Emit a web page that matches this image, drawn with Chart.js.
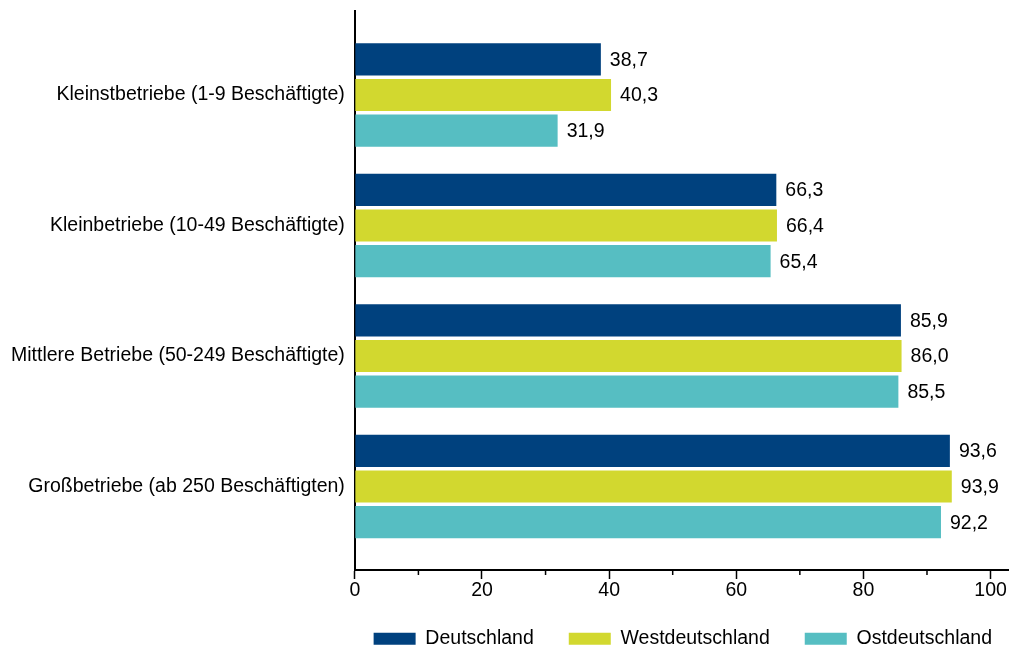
<!DOCTYPE html>
<html lang="de">
<head>
<meta charset="utf-8">
<script src="https://cdn.jsdelivr.net/npm/chart.js@4/dist/chart.umd.min.js"></script>
<style>
  html, body { margin: 0; padding: 0; background: #fff; }
  #wrap { width: 1009px; height: 652px; position: relative; }
</style>
</head>
<body>
<div id="wrap"><canvas id="chartBetriebe"></canvas></div>
<script>
// Daten
const kategorien = [
    'Kleinstbetriebe (1-9 Beschäftigte)',
    'Kleinbetriebe (10-49 Beschäftigte)',
    'Mittlere Betriebe (50-249 Beschäftigte)',
    'Großbetriebe (ab 250 Beschäftigten)'
];
const deutschland = [38.7, 66.3, 85.9, 93.6];
const westdeutschland = [40.3, 66.4, 86.0, 93.9];
const ostdeutschland = [31.9, 65.4, 85.5, 92.2];
const xTicks = [0, 20, 40, 60, 80, 100];
const xMinorTicks = [10, 30, 50, 70, 90];

const schrift = '"Liberation Sans", Arial, sans-serif';
const groesse = 19.5;

const punkte = (werte) => werte.map((v, i) => ({ x: v, y: i }));

// Werte rechts neben den Balken
const wertLabels = {
    id: 'wertLabels',
    afterDatasetsDraw(chart) {
        const ctx = chart.ctx;
        ctx.save();
        ctx.font = `${groesse}px ${schrift}`;
        ctx.fillStyle = '#000';
        ctx.textAlign = 'left';
        ctx.textBaseline = 'middle';
        chart.data.datasets.forEach((ds, di) => {
            chart.getDatasetMeta(di).data.forEach((bar, i) => {
                const txt = ds.data[i].x.toFixed(1).replace('.', ',');
                ctx.fillText(txt, bar.x + 9, bar.y + 1);
            });
        });
        ctx.restore();
    }
};

// kurze Zwischenstriche auf der x-Achse
const kleineStriche = {
    id: 'kleineStriche',
    afterLayout(chart) {
        // Beschriftung der x-Achse nicht abschneiden
        chart.scales.x.bottom = chart.height;
    },
    afterDraw(chart) {
        const sx = chart.scales.x;
        const ctx = chart.ctx;
        ctx.save();
        ctx.strokeStyle = '#000';
        ctx.lineWidth = 1.5;
        xMinorTicks.forEach(v => {
            const px = sx.getPixelForValue(v);
            ctx.beginPath();
            ctx.moveTo(px, sx.top);
            ctx.lineTo(px, sx.top + 5);
            ctx.stroke();
        });
        ctx.restore();
    }
};

const ctx = document.getElementById('chartBetriebe').getContext('2d');
new Chart(ctx, {
    type: 'bar',
    data: {
        datasets: [
            { label: 'Deutschland', data: punkte(deutschland), backgroundColor: '#00417e' },
            { label: 'Westdeutschland', data: punkte(westdeutschland), backgroundColor: '#d2d82f' },
            { label: 'Ostdeutschland', data: punkte(ostdeutschland), backgroundColor: '#56bec2' }
        ]
    },
    options: {
        indexAxis: 'y',
        responsive: true,
        maintainAspectRatio: false,
        animation: false,
        categoryPercentage: 0.82,
        barPercentage: 0.9,
        layout: { padding: { top: 11, left: 1, right: -18, bottom: 0 } },
        plugins: {
            tooltip: { enabled: false },
            legend: {
                position: 'bottom',
                align: 'end',
                maxHeight: 58,
                labels: {
                    boxWidth: 42,
                    boxHeight: 12,
                    padding: 35,
                    color: '#000',
                    font: { family: schrift, size: groesse }
                }
            }
        },
        scales: {
            x: {
                type: 'linear',
                min: 0,
                max: 102.9,
                grid: { drawOnChartArea: false, drawTicks: true, tickLength: 9, tickWidth: 1.5, tickColor: '#000' },
                border: { display: true, color: '#000', width: 2 },
                afterBuildTicks: (scale) => { scale.ticks = xTicks.map(v => ({ value: v })); },
                afterFit: (scale) => { scale.height = 24; },
                ticks: {
                    padding: 0,
                    color: '#000',
                    maxRotation: 0,
                    font: { family: schrift, size: groesse }
                }
            },
            y: {
                type: 'linear',
                reverse: true,
                offset: false,
                min: -0.6437,
                max: 3.6398,
                grid: { display: false, drawTicks: false, offset: false },
                border: { display: true, color: '#000', width: 2 },
                afterBuildTicks: (scale) => { scale.ticks = kategorien.map((k, i) => ({ value: i })); },
                afterFit: (scale) => { scale.paddingTop = 0; scale.paddingBottom = 0; },
                ticks: {
                    padding: 10,
                    color: '#000',
                    font: { family: schrift, size: groesse },
                    callback: (v) => kategorien[v]
                }
            }
        }
    },
    plugins: [wertLabels, kleineStriche]
});
</script>
</body>
</html>
